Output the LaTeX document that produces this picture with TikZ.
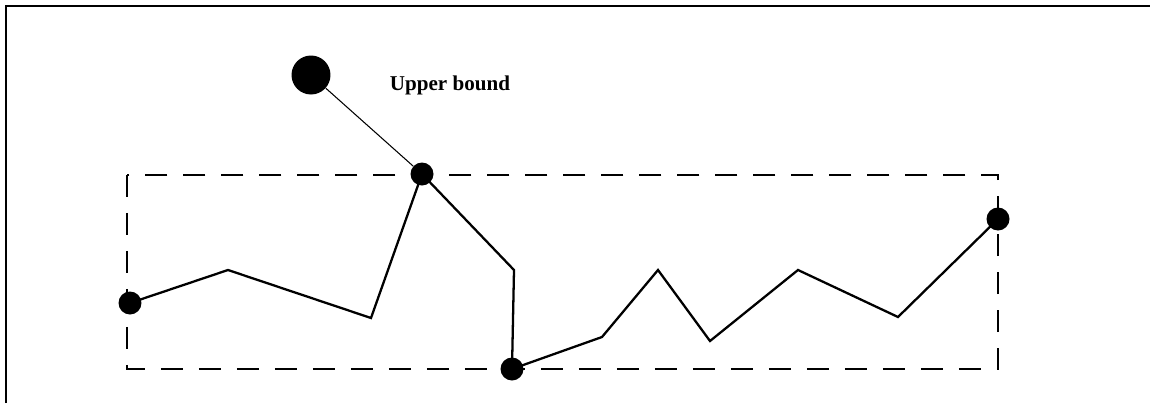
\documentclass[tikz,border=0pt]{standalone}
\usepackage{fontspec}
\setmainfont{Liberation Serif}
\usetikzlibrary{positioning,calc}

\begin{document}
\begin{tikzpicture}[x=0.02cm,y=-0.02cm,line join=miter]
  \tikzstyle{dot}=[circle,fill=black,inner sep=0pt,minimum size=0.46cm]
  \tikzstyle{bigdot}=[circle,fill=black,inner sep=0pt,minimum size=0.78cm]
  \tikzstyle{curve}=[line width=1.3pt]
  \tikzstyle{box}=[line width=0.6pt,dash pattern=on 0.44cm off 0.32cm]

  \useasboundingbox (0,0) rectangle (1150,403);
  \draw[line width=1.2pt] (6,403) -- (6,6) -- (1150,6);

  \draw[box] (127,175) rectangle (998,369);

  \node[dot] (A) at (130,303) {};
  \node[dot] (D) at (422,174) {};
  \node[dot] (F) at (512,369) {};
  \node[dot] (L) at (998,219) {};
  \node[bigdot] (U) at (311,75) {};
  \node[font=\fontsize{12}{14}\selectfont\bfseries] (T) at (450,85) {Upper bound};

  \coordinate (B) at (228,270);
  \coordinate (C) at (371,318);
  \coordinate (E) at (514,270);
  \coordinate (G) at (602,337);
  \coordinate (H) at (658,270);
  \coordinate (I) at (710,341);
  \coordinate (J) at (798,270);
  \coordinate (K) at (898,317);

  \draw[curve] (A.center) -- (B) -- (C) -- (D.center) -- (E) -- (F.center)
               -- (G) -- (H) -- (I) -- (J) -- (K) -- (L.center);
  \draw[line width=0.6pt] (U) -- (D);

\end{tikzpicture}
\end{document}
